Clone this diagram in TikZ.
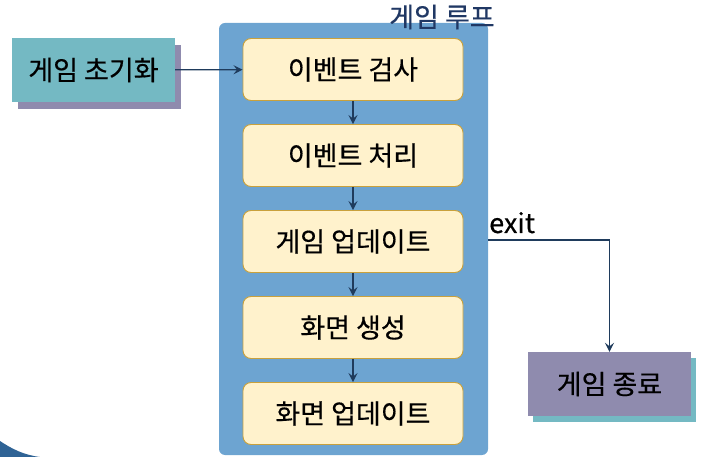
\documentclass[tikz,border=0pt]{standalone}
\usepackage{fontspec}
\setmainfont[FakeBold=0.4]{Noto Sans CJK KR}
\usetikzlibrary{arrows.meta,shadows}
\definecolor{loopblue}{HTML}{6DA4D1}
\definecolor{boxfill}{HTML}{FFF2CC}
\definecolor{boxline}{HTML}{C9A13C}
\definecolor{tealbox}{HTML}{74B9C3}
\definecolor{purplebox}{HTML}{8F8BAE}
\definecolor{navy}{HTML}{1F3B5C}
\definecolor{titlecol}{HTML}{203864}
\definecolor{cornerblue}{HTML}{2F6395}
\tikzset{
  bigfont/.style={font=\fontsize{27pt}{31pt}\selectfont},
  stepbox/.style={draw=boxline, line width=0.9pt, fill=boxfill, rounded corners=8pt,
    minimum width=220pt, minimum height=62pt, inner sep=0pt, bigfont},
  container/.style={fill=loopblue, rounded corners=6pt, minimum width=269pt, minimum height=432pt, inner sep=0pt},
  flow/.style={draw=navy, line width=1.2pt, -{Stealth[length=9pt,width=9pt,inset=3.5pt]}},
  initbox/.style={fill=tealbox, minimum width=163pt, minimum height=64pt, inner sep=0pt, bigfont,
    drop shadow={shadow xshift=6pt, shadow yshift=-7pt, fill=purplebox, opacity=1}},
  endbox/.style={fill=purplebox, minimum width=163pt, minimum height=64pt, inner sep=0pt, bigfont,
    drop shadow={shadow xshift=5pt, shadow yshift=-6pt, fill=tealbox, opacity=1}},
}
\begin{document}
\begin{tikzpicture}[x=1pt,y=-1pt]
\useasboundingbox (0,0) rectangle (702,457);
\fill[cornerblue] (0,441) .. controls (12,449) and (24,455) .. (40,457) -- (0,457) -- cycle;
\node[container] (loop) at (353.5,239) {};
\node[bigfont, text=titlecol, inner sep=0pt] (title) at (442,17) {게임 루프};
\node[stepbox] (b1) at (353,69.5) {이벤트 검사};
\node[stepbox] (b2) at (353,155.5) {이벤트 처리};
\node[stepbox] (b3) at (353,241.5) {게임 업데이트};
\node[stepbox] (b4) at (353,327.5) {화면 생성};
\node[stepbox] (b5) at (353,413.5) {화면 업데이트};
\node[initbox] (init) at (93.5,70) {게임 초기화};
\node[endbox] (end) at (609.5,384) {게임 종료};
\draw[flow] (b1) -- (b2);
\draw[flow] (b2) -- (b3);
\draw[flow] (b3) -- (b4);
\draw[flow] (b4) -- (b5);
\draw[flow] (init) -- (b1);
\coordinate (exitstart) at (488,240);
\draw[flow] (exitstart) -| (end.north);
\node[bigfont, anchor=base west, inner sep=0pt] (exitlabel) at (489,233) {exit};
\end{tikzpicture}
\end{document}
